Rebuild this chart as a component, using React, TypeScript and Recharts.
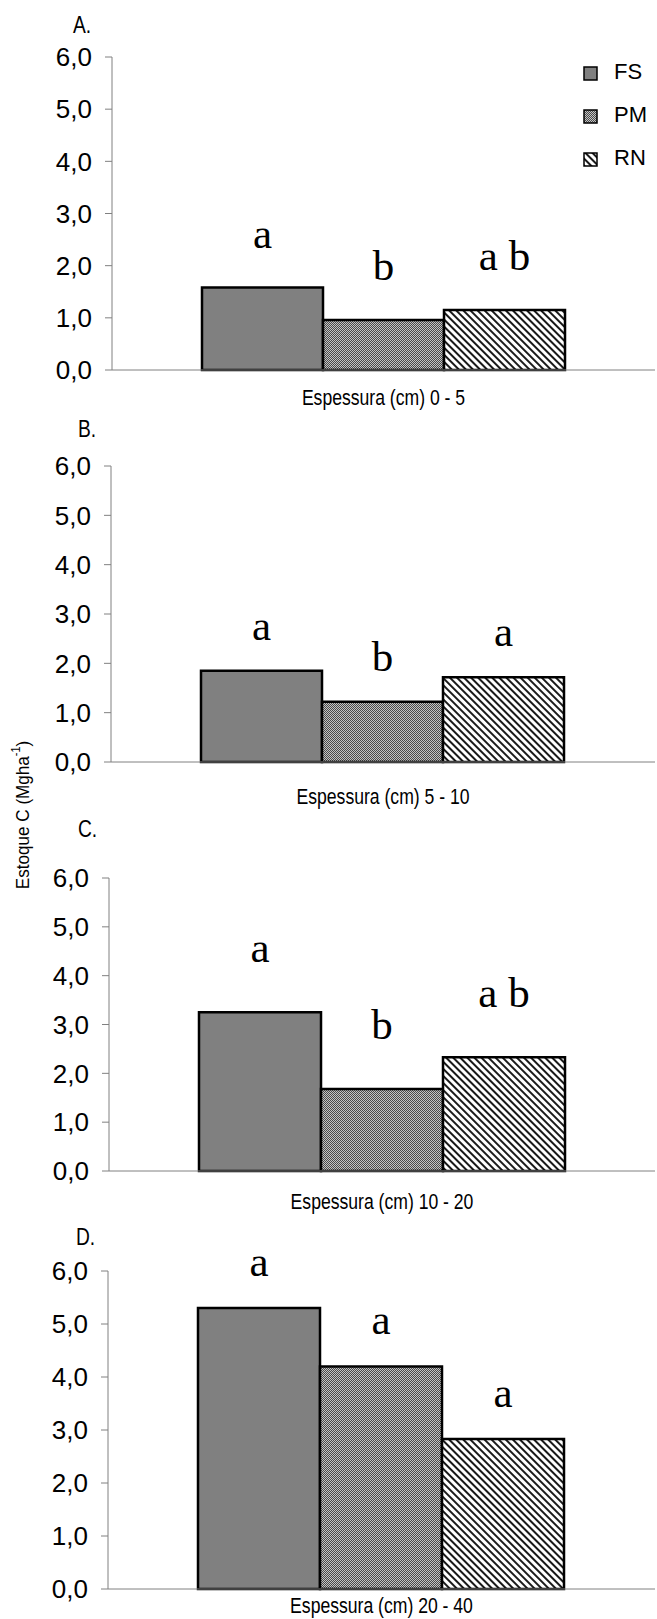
import { BarChart, Bar, XAxis, YAxis, Legend, Label, LabelList } from 'recharts';

// series + depth layers
const seriesNames = ['FS', 'PM', 'RN'];
const depths = ['0 - 5', '5 - 10', '10 - 20', '20 - 40'];
const panelTags = ['A.', 'B.', 'C.', 'D.'];

// Estoque C (Mg ha-1)
const fsValues = [1.58, 1.85, 3.25, 5.3];
const pmValues = [0.96, 1.22, 1.68, 4.2];
const rnValues = [1.15, 1.72, 2.33, 2.83];

// significance letters above each bar
const fsLetters = ['a', 'a', 'a', 'a'];
const pmLetters = ['b', 'b', 'b', 'a'];
const rnLetters = ['a b', 'a', 'a b', 'a'];

const yTicks = [0, 1, 2, 3, 4, 5, 6];

// page layout of the four panels (pixels)
const layout = [
  { plotTop: 57, plotBottom: 370, axisX: 112, tagX: 73, tagY: 33, titleGap: 34, letterGap: 40 },
  { plotTop: 466, plotBottom: 762, axisX: 111, tagX: 78, tagY: 437, titleGap: 41, letterGap: 31 },
  { plotTop: 878, plotBottom: 1171, axisX: 109, tagX: 78, tagY: 837, titleGap: 37, letterGap: 50 },
  { plotTop: 1271, plotBottom: 1589, axisX: 108, tagX: 76, tagY: 1245, titleGap: 23, letterGap: 32 },
];

const PAGE_W = 657;
const PAGE_H = 1619;
const TOP_PAD = 60;
const AXIS = '#808080';
const SANS = "'Liberation Sans', Arial, sans-serif";
const SERIF = "'Liberation Serif', 'Times New Roman', serif";

const fills: Record<string, string> = {
  FS: '#808080',
  PM: 'url(#pmDots)',
  RN: 'url(#rnHatch)',
};

const fmt = (v: number) => v.toFixed(1).replace('.', ',');

// condensed text (the original uses an Arial Narrow look)
const NarrowText = ({ x, y, anchor, size = 22, children }: any) => (
  <text
    transform={`translate(${x},${y}) scale(0.8,1)`}
    textAnchor={anchor}
    fontSize={size}
    fontFamily={SANS}
    fill='#000'
  >
    {children}
  </text>
);

const AxisTitle = (props: any) => {
  const { viewBox, value, offset } = props;
  if (!viewBox) return null;
  return (
    <NarrowText x={viewBox.x + viewBox.width / 2} y={viewBox.y + offset} anchor='middle'>
      {value}
    </NarrowText>
  );
};

const LegendBox = () => (
  <svg width={74} height={120}>
    {seriesNames.map((s, i) => (
      <g key={s}>
        <rect x={1} y={7 + i * 43} width={13} height={13} fill={fills[s]} stroke='#000' strokeWidth={1.5} />
        <text x={31} y={11 + i * 43} dominantBaseline='central' fontSize={22} fontFamily={SANS} fill='#000'>
          {s}
        </text>
      </g>
    ))}
  </svg>
);

const Panel = ({ idx }: { idx: number }) => {
  const l = layout[idx];
  const bottom = idx === 3 ? PAGE_H - l.plotBottom - 2 : 50;
  const top = l.plotTop - TOP_PAD;
  const height = l.plotBottom - l.plotTop + TOP_PAD + 2 + bottom;

  const data = [
    {
      name: depths[idx],
      FS: fsValues[idx],
      PM: pmValues[idx],
      RN: rnValues[idx],
      FSl: fsLetters[idx],
      PMl: pmLetters[idx],
      RNl: rnLetters[idx],
    },
  ];

  return (
    <div style={{ position: 'absolute', left: 0, top }}>
      <BarChart
        width={PAGE_W}
        height={height}
        data={data}
        margin={{ top: TOP_PAD, right: 2, left: 0, bottom }}
        barGap={0}
        barCategoryGap={90}
      >
        <XAxis dataKey='name' height={1} tick={false} tickLine={false} axisLine={{ stroke: AXIS }} />
        <XAxis
          xAxisId='frame'
          type='number'
          domain={[0, 1]}
          ticks={[0, 1]}
          height={1}
          tick={false}
          tickSize={8}
          tickLine={{ stroke: AXIS }}
          axisLine={false}
        >
          <Label value={`Espessura (cm) ${depths[idx]}`} offset={l.titleGap} content={AxisTitle} />
        </XAxis>
        <YAxis
          type='number'
          domain={[0, 6]}
          ticks={yTicks}
          width={l.axisX}
          tickSize={7}
          tickMargin={13}
          tickFormatter={fmt}
          axisLine={{ stroke: AXIS }}
          tickLine={{ stroke: AXIS }}
          tick={{ fill: '#000', fontSize: 26, fontFamily: SANS }}
        />
        {idx === 0 && (
          <Legend
            layout='vertical'
            align='center'
            verticalAlign='middle'
            content={<LegendBox />}
            wrapperStyle={{ left: 583, top: 60 - top, width: 74 }}
          />
        )}
        {seriesNames.map((s) => (
          <Bar
            key={s}
            dataKey={s}
            name={s}
            fill={fills[s]}
            stroke='#000'
            strokeWidth={2.5}
            isAnimationActive={false}
          >
            <LabelList
              dataKey={`${s}l`}
              position='top'
              offset={l.letterGap}
              fontSize={43}
              fontFamily={SERIF}
              fill='#000'
            />
          </Bar>
        ))}
      </BarChart>
    </div>
  );
};

function yLabelText() {
  return (
    <>
      Estoque C  (Mgha
      <tspan fontSize={12} dy={-7}>
        -1
      </tspan>
      <tspan dy={7}>)</tspan>
    </>
  );
}

const App = () => (
  <div
    style={{
      position: 'absolute',
      left: 0,
      top: 0,
      width: PAGE_W,
      height: PAGE_H,
      background: '#fff',
      fontFamily: SANS,
    }}
  >
    {/* shared fill patterns */}
    <svg width={0} height={0} style={{ position: 'absolute' }}>
      <defs>
        <pattern id='pmDots' width={2} height={2} patternUnits='userSpaceOnUse'>
          <rect width={2} height={2} fill='#c4c4c4' />
          <rect x={0} y={0} width={1} height={1} fill='#4a4a4a' />
          <rect x={1} y={1} width={1} height={1} fill='#4a4a4a' />
        </pattern>
        <pattern id='rnHatch' width={5} height={5} patternUnits='userSpaceOnUse' patternTransform='rotate(-45)'>
          <rect width={5} height={5} fill='#fff' />
          <rect x={0} y={0} width={2} height={5} fill='#1a1a1a' />
        </pattern>
      </defs>
    </svg>

    {depths.map((_, i) => (
      <Panel key={i} idx={i} />
    ))}

    {/* panel tags and the shared y title */}
    <svg width={PAGE_W} height={PAGE_H} style={{ position: 'absolute', left: 0, top: 0, pointerEvents: 'none' }}>
      {panelTags.map((t, i) => (
        <NarrowText key={t} x={layout[i].tagX} y={layout[i].tagY} anchor='start' size={24}>
          {t}
        </NarrowText>
      ))}
      <text
        transform='translate(23,815) rotate(-90) scale(0.9,1)'
        textAnchor='middle'
        dominantBaseline='central'
        fontSize={19}
        fontFamily={SANS}
        fill='#000'
      >
        {yLabelText()}
      </text>
    </svg>
  </div>
);

export default App;
